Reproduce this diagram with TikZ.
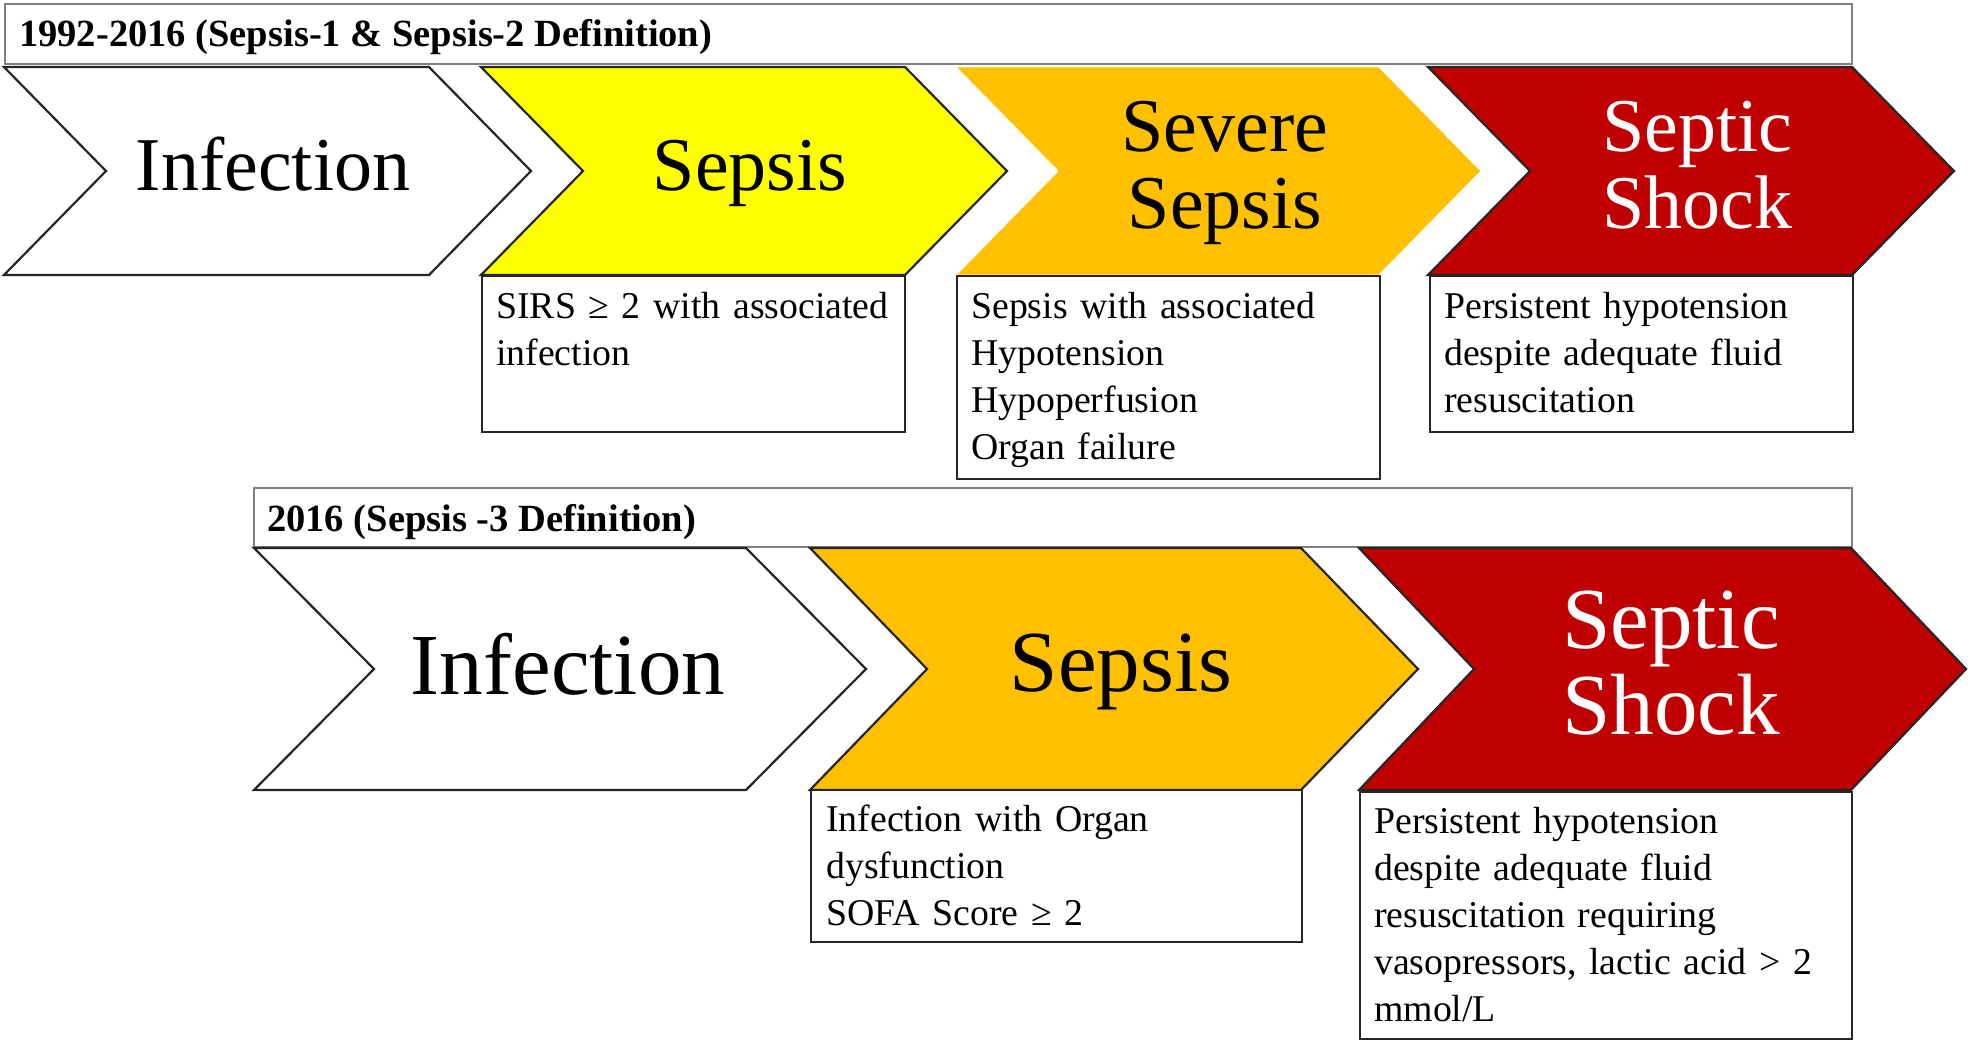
\documentclass[tikz,border=0pt]{standalone}
\usepackage{fontspec}
\setmainfont{Liberation Serif}
\usetikzlibrary{positioning}

\definecolor{sepyellow}{HTML}{FFFF00}
\definecolor{sepamber}{HTML}{FFC000}
\definecolor{sepred}{HTML}{C00000}
\definecolor{edgegray}{HTML}{262626}
\definecolor{headgray}{HTML}{808080}

% chevron: #1 style, #2 left x, #3 top y, #4 body width, #5 height, #6 point depth
\newcommand{\chevron}[6]{%
  \draw[#1] (#2,#3) -- ++(#4,0) -- ++(#6,#5/2) -- ++(-#6,#5/2) -- ++(-#4,0) -- ++(#6,-#5/2) -- cycle;}

\begin{document}
\begin{tikzpicture}[x=1pt, y=-1pt,
  chevron/.style={draw=edgegray, line width=2.2pt, line join=miter},
  headbox/.style={draw=headgray, line width=2pt, fill=white, inner sep=0pt, anchor=north west},
  descbox/.style={draw=edgegray, line width=2pt, fill=white, inner sep=0pt, anchor=north west},
  headtext/.style={anchor=base west, inner sep=0pt, font=\bfseries\fontsize{38.5}{44}\selectfont},
  desctext/.style={anchor=base west, inner sep=0pt, align=left, text width=460pt, font=\fontsize{37.8}{47}\selectfont},
  stagetext/.style={anchor=base, inner sep=0pt, align=center, text width=420pt, font=\fontsize{76}{77}\selectfont},
  bigstage/.style={stagetext, font=\fontsize{87}{86}\selectfont}]
\useasboundingbox (0,0) rectangle (1968,1043);

% 1992-2016 definitions
\node[headbox, minimum width=1847pt, minimum height=60pt] (oldhead) at (4,3) {};
\node[headtext] (oldtitle) at ([xshift=15pt, yshift=-44pt]oldhead.north west) {1992-2016 (Sepsis-1 \& Sepsis-2 Definition)};

\chevron{chevron, fill=white}{4}{67}{425}{208}{102}
\chevron{chevron, fill=sepyellow}{481}{67}{424}{208}{102}
\chevron{chevron, draw=white, line width=1pt, fill=sepamber}{956}{67}{423}{208}{102}
\chevron{chevron, fill=sepred}{1428}{67}{424}{208}{102}

\node[stagetext] (oldinf) at (273,191) {Infection};
\node[stagetext] (oldsep) at (750,191) {Sepsis};
\node[stagetext] (oldsev) at (1225,152) {Severe\\Sepsis};
\node[stagetext, text=white] (oldshock) at (1697,152) {Septic\\Shock};

\node[descbox, minimum width=423pt, minimum height=156pt] (sirsbox) at (481,275) {};
\node[desctext] (sirstxt) at ([xshift=15pt, yshift=-43pt]sirsbox.north west) {SIRS ≥ 2 with associated\\infection};
\node[descbox, minimum width=423pt, minimum height=203pt] (sevbox) at (956,275) {};
\node[desctext] (sevtxt) at ([xshift=15pt, yshift=-43pt]sevbox.north west) {Sepsis with associated\\Hypotension\\Hypoperfusion\\Organ failure};
\node[descbox, minimum width=423pt, minimum height=156pt] (shockbox) at (1429,275) {};
\node[desctext] (shocktxt) at ([xshift=15pt, yshift=-43pt]shockbox.north west) {Persistent hypotension\\despite adequate fluid\\resuscitation};

% 2016 definition
\node[headbox, minimum width=1598pt, minimum height=59pt] (newhead) at (253,487) {};
\node[headtext] (newtitle) at ([xshift=14pt, yshift=-44pt]newhead.north west) {2016 (Sepsis -3 Definition)};

\chevron{chevron, fill=white}{254}{548}{492}{242}{120}
\chevron{chevron, fill=sepamber}{810}{548}{491}{242}{117}
\chevron{chevron, fill=sepred}{1359}{548}{492}{242}{115}

\node[bigstage] (newinf) at (568,694) {Infection};
\node[bigstage] (newsep) at (1121,691) {Sepsis};
\node[bigstage, text=white] (newshock) at (1671,648) {Septic\\Shock};

\node[descbox, minimum width=491pt, minimum height=152pt] (sofabox) at (810,789) {};
\node[desctext] (sofatxt) at ([xshift=16pt, yshift=-42pt]sofabox.north west) {Infection with Organ\\dysfunction\\SOFA Score ≥ 2};
\node[descbox, minimum width=492pt, minimum height=247pt] (vasobox) at (1359,791) {};
\node[desctext] (vasotxt) at ([xshift=15pt, yshift=-42pt]vasobox.north west) {Persistent hypotension\\despite adequate fluid\\resuscitation requiring\\vasopressors, lactic acid > 2\\mmol/L};
\end{tikzpicture}
\end{document}
